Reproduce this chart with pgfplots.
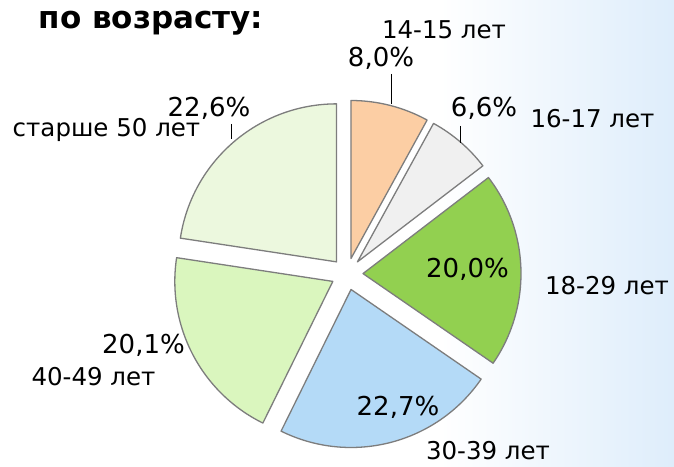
\documentclass[border=0pt]{standalone}
\usepackage{pgfplots}
\pgfplotsset{compat=1.18}
\usepackage{fontspec}
\setmainfont{DejaVu Sans}
\definecolor{c1}{RGB}{252,206,164}
\definecolor{c2}{RGB}{240,240,240}
\definecolor{c3}{RGB}{146,208,80}
\definecolor{c4}{RGB}{180,218,247}
\definecolor{c5}{RGB}{218,246,190}
\definecolor{c6}{RGB}{236,248,222}
\definecolor{slicegray}{RGB}{125,125,125}
\definecolor{bgblue}{RGB}{222,237,251}
% #1 cumulative start (%), #2 value (%), #3 colour
\newcommand{\slice}[3]{%
  \filldraw[fill=#3, draw=slicegray, line width=1.3pt, line join=round]
    (axis cs:{347+16*cos(90-3.6*(#1+#2/2))},{192+16*sin(90-3.6*(#1+#2/2))})
    -- ++({90-3.6*#1}:158pt)
    arc[start angle={90-3.6*#1}, end angle={90-3.6*(#1+#2)}, radius=158pt]
    -- cycle;}
\newcommand{\pct}{\fontsize{26}{30}\selectfont}
\newcommand{\cat}{\fontsize{24.5}{28}\selectfont}
\begin{document}
\begin{tikzpicture}
\fill[white] (0,0) rectangle (674pt,466pt);
\shade[left color=white, right color=bgblue] (440pt,0) rectangle (674pt,466pt);
\begin{axis}[x=1pt, y=1pt, xmin=0, xmax=674, ymin=0, ymax=466,
  hide axis, clip=false, anchor=south west, at={(0,0)}]
\slice{0}{8.0}{c1}
\slice{8.0}{6.6}{c2}
\slice{14.6}{20.0}{c3}
\slice{34.6}{22.7}{c4}
\slice{57.3}{20.1}{c5}
\slice{77.4}{22.6}{c6}
% leader lines
\draw[black, line width=1pt] (axis cs:391,{466-74}) -- (axis cs:391,{466-104});
\draw[black, line width=1pt] (axis cs:460,{466-126}) -- (axis cs:460,{466-143});
\draw[black, line width=1pt] (axis cs:231,{466-124}) -- (axis cs:231,{466-139});
% labels
\node[anchor=base, inner sep=0] at (axis cs:151,{466-29}) {\fontsize{31}{36}\selectfont\bfseries по возрасту:};
\node[anchor=base, inner sep=0] at (axis cs:444,{466-39}) {\cat 14-15 лет};
\node[anchor=base, inner sep=0] at (axis cs:381,{466-67}) {\pct 8,0\%};
\node[anchor=base, inner sep=0] at (axis cs:484,{466-117}) {\pct 6,6\%};
\node[anchor=base, inner sep=0] at (axis cs:592.5,{466-128}) {\cat 16-17 лет};
\node[anchor=base, inner sep=0] at (axis cs:467.5,{466-278}) {\pct 20,0\%};
\node[anchor=base, inner sep=0] at (axis cs:607,{466-295}) {\cat 18-29 лет};
\node[anchor=base, inner sep=0] at (axis cs:398,{466-415}) {\pct 22,7\%};
\node[anchor=base, inner sep=0] at (axis cs:488,{466-459}) {\cat 30-39 лет};
\node[anchor=base, inner sep=0] at (axis cs:143.5,{466-353}) {\pct 20,1\%};
\node[anchor=base, inner sep=0] at (axis cs:93.5,{466-385}) {\cat 40-49 лет};
\node[anchor=base, inner sep=0] at (axis cs:209,{466-117}) {\pct 22,6\%};
\node[anchor=base, inner sep=0] at (axis cs:106.5,{466-137}) {\cat старше 50 лет};
\end{axis}
\pgfresetboundingbox
\path[use as bounding box] (0,0) rectangle (674pt,466pt);
\end{tikzpicture}
\end{document}
